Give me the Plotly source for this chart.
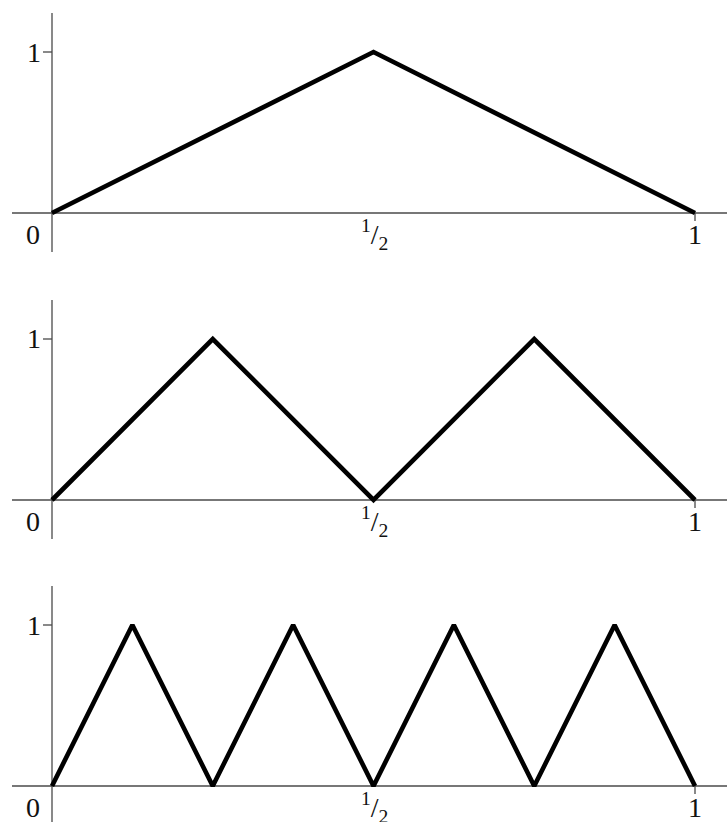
import plotly.graph_objects as go

# Tent-map iterates: T, T∘T, T∘T∘T on [0, 1]
x_t1 = [0, 0.5, 1]
y_t1 = [0, 1, 0]
x_t2 = [0, 0.25, 0.5, 0.75, 1]
y_t2 = [0, 1, 0, 1, 0]
x_t3 = [0, 0.125, 0.25, 0.375, 0.5, 0.625, 0.75, 0.875, 1]
y_t3 = [0, 1, 0, 1, 0, 1, 0, 1, 0]

x_tick_vals = [0, 0.5, 1]
x_tick_text = ["0", "<sup>1</sup>/<sub>2</sub>", "1"]
y_tick_vals = [1]
y_tick_text = ["1"]

series = [(x_t1, y_t1), (x_t2, y_t2), (x_t3, y_t3)]

W, H = 727, 822
X0_PX, UNIT_X = 52, 643          # pixel of x=0 and pixels per unit in x
UNIT_Y = 161                      # pixels per unit in y
Y1_PX = [52, 339, 625]            # pixel row of y=1 in each panel
Y0_PX = [213, 500, 786]           # pixel row of y=0 in each panel

FONT = "Liberation Serif"
TXT = "#111111"
AXIS_COLOR = "#4a4a4a"
AXIS_W = 1.3

x_range = [-X0_PX / UNIT_X, (W - X0_PX) / UNIT_X]

fig = go.Figure()
layout = dict(
    width=W, height=H,
    margin=dict(l=0, r=0, t=0, b=0),
    paper_bgcolor="white", plot_bgcolor="white",
    showlegend=False,
    shapes=[], annotations=[],
)


def label(xr, yr, x, y, text, size, dx=0, dy=0):
    layout["annotations"].append(dict(
        x=x, y=y, xref=xr, yref=yr, text=text, showarrow=False,
        xanchor="center", yanchor="middle", xshift=dx, yshift=dy,
        font=dict(family=FONT, size=size, color=TXT)))


for i, (xs, ys) in enumerate(series):
    n = "" if i == 0 else str(i + 1)
    top = Y1_PX[i] - 52
    bottom = min(Y0_PX[i] + 57, H)
    y_max = 1 + (Y1_PX[i] - top) / UNIT_Y
    y_min = -(bottom - Y0_PX[i]) / UNIT_Y
    dom = [1 - bottom / H, 1 - top / H]

    layout["xaxis" + n] = dict(domain=[0, 1], range=x_range, visible=False,
                               anchor="y" + n, fixedrange=True)
    layout["yaxis" + n] = dict(domain=dom, range=[y_min, y_max], visible=False,
                               anchor="x" + n, fixedrange=True)

    xr, yr = "x" + n, "y" + n
    line = dict(color=AXIS_COLOR, width=AXIS_W)
    # horizontal axis
    layout["shapes"].append(dict(type="line", xref=xr, yref=yr, layer="below",
                                 x0=-40 / UNIT_X, x1=x_range[1], y0=0, y1=0, line=line))
    # vertical axis
    layout["shapes"].append(dict(type="line", xref=xr, yref=yr, layer="below",
                                 x0=0, x1=0, y0=-39 / UNIT_Y, y1=1 + 39 / UNIT_Y, line=line))
    # tick at y = 1
    for yv in y_tick_vals:
        layout["shapes"].append(dict(type="line", xref=xr, yref=yr, layer="below",
                                     x0=-9 / UNIT_X, x1=0, y0=yv, y1=yv, line=line))
    # tick below x = 1
    layout["shapes"].append(dict(type="line", xref=xr, yref=yr, layer="below",
                                 x0=x_tick_vals[-1], x1=x_tick_vals[-1],
                                 y0=0, y1=-8 / UNIT_Y, line=line))

    # x tick labels
    for xv, txt in zip(x_tick_vals, x_tick_text):
        if xv == 0:
            label(xr, yr, xv, 0, txt, 28, dx=-19, dy=-21)
        elif "/" in txt:
            label(xr, yr, xv, 0, txt, 28, dx=1, dy=-21)
        else:
            label(xr, yr, xv, 0, txt, 28, dy=-21)
    # y tick labels
    for yv, txt in zip(y_tick_vals, y_tick_text):
        label(xr, yr, 0, yv, txt, 28, dx=-18.5)

    fig.add_trace(go.Scatter(x=xs, y=ys, xaxis=xr, yaxis=yr, mode="lines",
                             line=dict(color="black", width=4.6),
                             hoverinfo="skip", cliponaxis=False))

fig.update_layout(**layout)
fig.write_html("out.html")
